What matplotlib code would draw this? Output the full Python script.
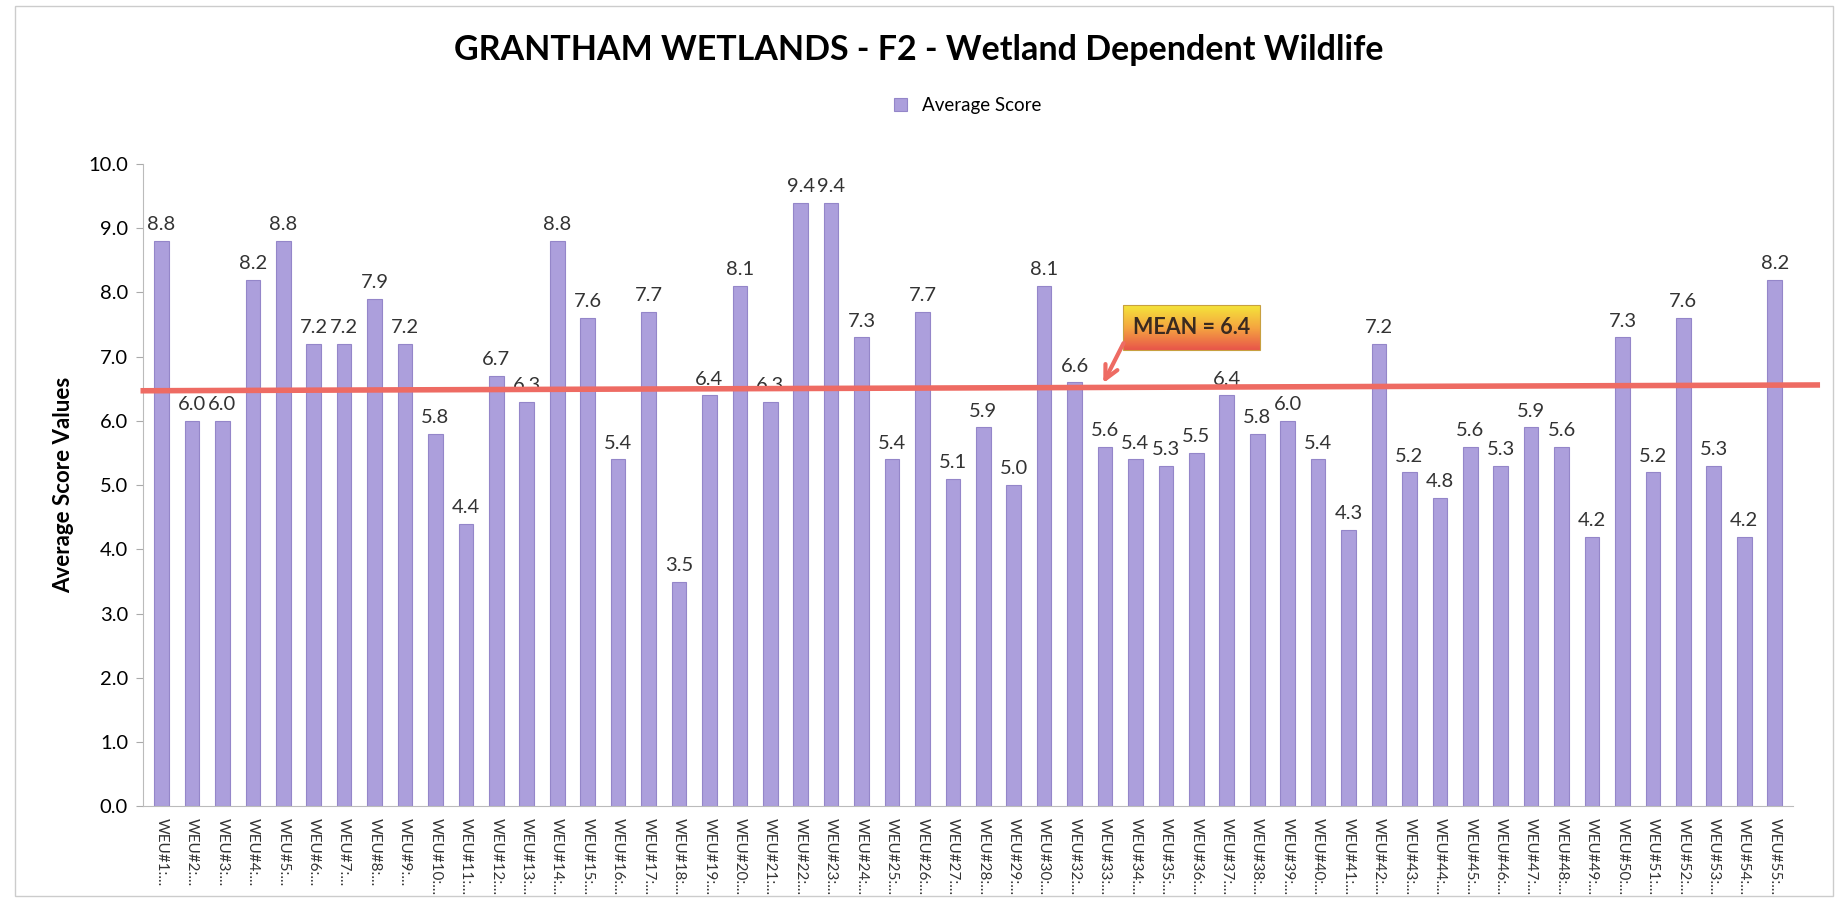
import matplotlib.pyplot as plt
import numpy as np
from matplotlib.patches import Rectangle
from matplotlib.colors import LinearSegmentedColormap

# データ
weu_ids = list(range(1, 31)) + list(range(32, 56))
labels = ['WEU#%d:...' % i for i in weu_ids]
scores = [8.8, 6.0, 6.0, 8.2, 8.8, 7.2, 7.2, 7.9, 7.2, 5.8,
          4.4, 6.7, 6.3, 8.8, 7.6, 5.4, 7.7, 3.5, 6.4, 8.1,
          6.3, 9.4, 9.4, 7.3, 5.4, 7.7, 5.1, 5.9, 5.0, 8.1,
          6.6, 5.6, 5.4, 5.3, 5.5, 6.4, 5.8, 6.0, 5.4, 4.3,
          7.2, 5.2, 4.8, 5.6, 5.3, 5.9, 5.6, 4.2, 7.3, 5.2,
          7.6, 5.3, 4.2, 8.2]
mean_value = 6.4
mean_line = [6.47, 6.56]  # 描かれた線の高さ（左端・右端）

plt.rcParams['font.family'] = ['Lato', 'DejaVu Sans']

fig = plt.figure(figsize=(18.37, 9.01), dpi=100)
ax = fig.add_axes([0.078, 0.105, 0.898, 0.713])

x = np.arange(len(scores))
ax.bar(x, scores, width=0.48, color='#AC9FDC', edgecolor='#9486C9',
       linewidth=0.8, label='Average Score', zorder=2)

# 値ラベル
for xi, v in zip(x, scores):
    ax.text(xi, v + 0.12, '%.1f' % v, ha='center', va='bottom',
            fontsize=14.5, color='#333333')

ax.set_yticks(np.arange(0, 10.1, 1.0))
ax.set_yticklabels(['%.1f' % t for t in np.arange(0, 10.1, 1.0)], fontsize=14.5)
ax.set_xticks(x)
ax.set_xticklabels(labels, rotation=-90, fontsize=11, color='#333333')
ax.tick_params(axis='x', length=0, pad=8)
ax.tick_params(axis='y', length=5, color='#aaaaaa', pad=6)

for s in ['top', 'right']:
    ax.spines[s].set_visible(False)
ax.spines['left'].set_color('#bbbbbb')
ax.spines['bottom'].set_color('#bbbbbb')

ax.set_ylabel('Average Score Values', fontsize=16, fontweight='bold', labelpad=10)

# 平均線
ax.plot([-0.6, len(scores) + 0.4], mean_line, color='#EE6B63', linewidth=4,
        clip_on=False, zorder=3)

# 平均ラベル（グラデーションの箱）
bx0, bx1, by0, by1 = 31.6, 36.1, 7.1, 7.8
grad = np.linspace(0, 1, 100).reshape(-1, 1)
cmap = LinearSegmentedColormap.from_list('mean', ['#F4E53A', '#F5A640', '#E8554A'])
ax.imshow(grad, extent=[bx0, bx1, by0, by1], aspect='auto', cmap=cmap,
          origin='upper', zorder=4)
ax.add_patch(Rectangle((bx0, by0), bx1 - bx0, by1 - by0, fill=False,
                       edgecolor='#C8A040', linewidth=0.8, zorder=5))
ax.text((bx0 + bx1) / 2, (by0 + by1) / 2, 'MEAN = %.1f' % mean_value,
        ha='center', va='center', fontsize=15.5, fontweight='bold',
        color='#3a2a20', zorder=6)
ax.annotate('', xy=(30.9, 6.55), xytext=(bx0 + 0.05, by0 + 0.15),
            arrowprops=dict(arrowstyle='->', color='#EE6B63', lw=3,
                            mutation_scale=24), zorder=6)

ax.set_xlim(-0.6, len(scores) - 0.4)
ax.set_ylim(0, 10)

fig.suptitle('GRANTHAM WETLANDS - F2 - Wetland Dependent Wildlife',
             fontsize=24.5, fontweight='bold', y=0.962)
ax.legend(loc='upper center', bbox_to_anchor=(0.5, 1.13), frameon=False,
          fontsize=13.5, handlelength=0.7, handleheight=0.7)

# 外枠
fig.add_artist(Rectangle((0.008, 0.005), 0.99, 0.988, transform=fig.transFigure,
                         fill=False, edgecolor='#cccccc', linewidth=1))

fig.savefig('out.png', dpi=100)
